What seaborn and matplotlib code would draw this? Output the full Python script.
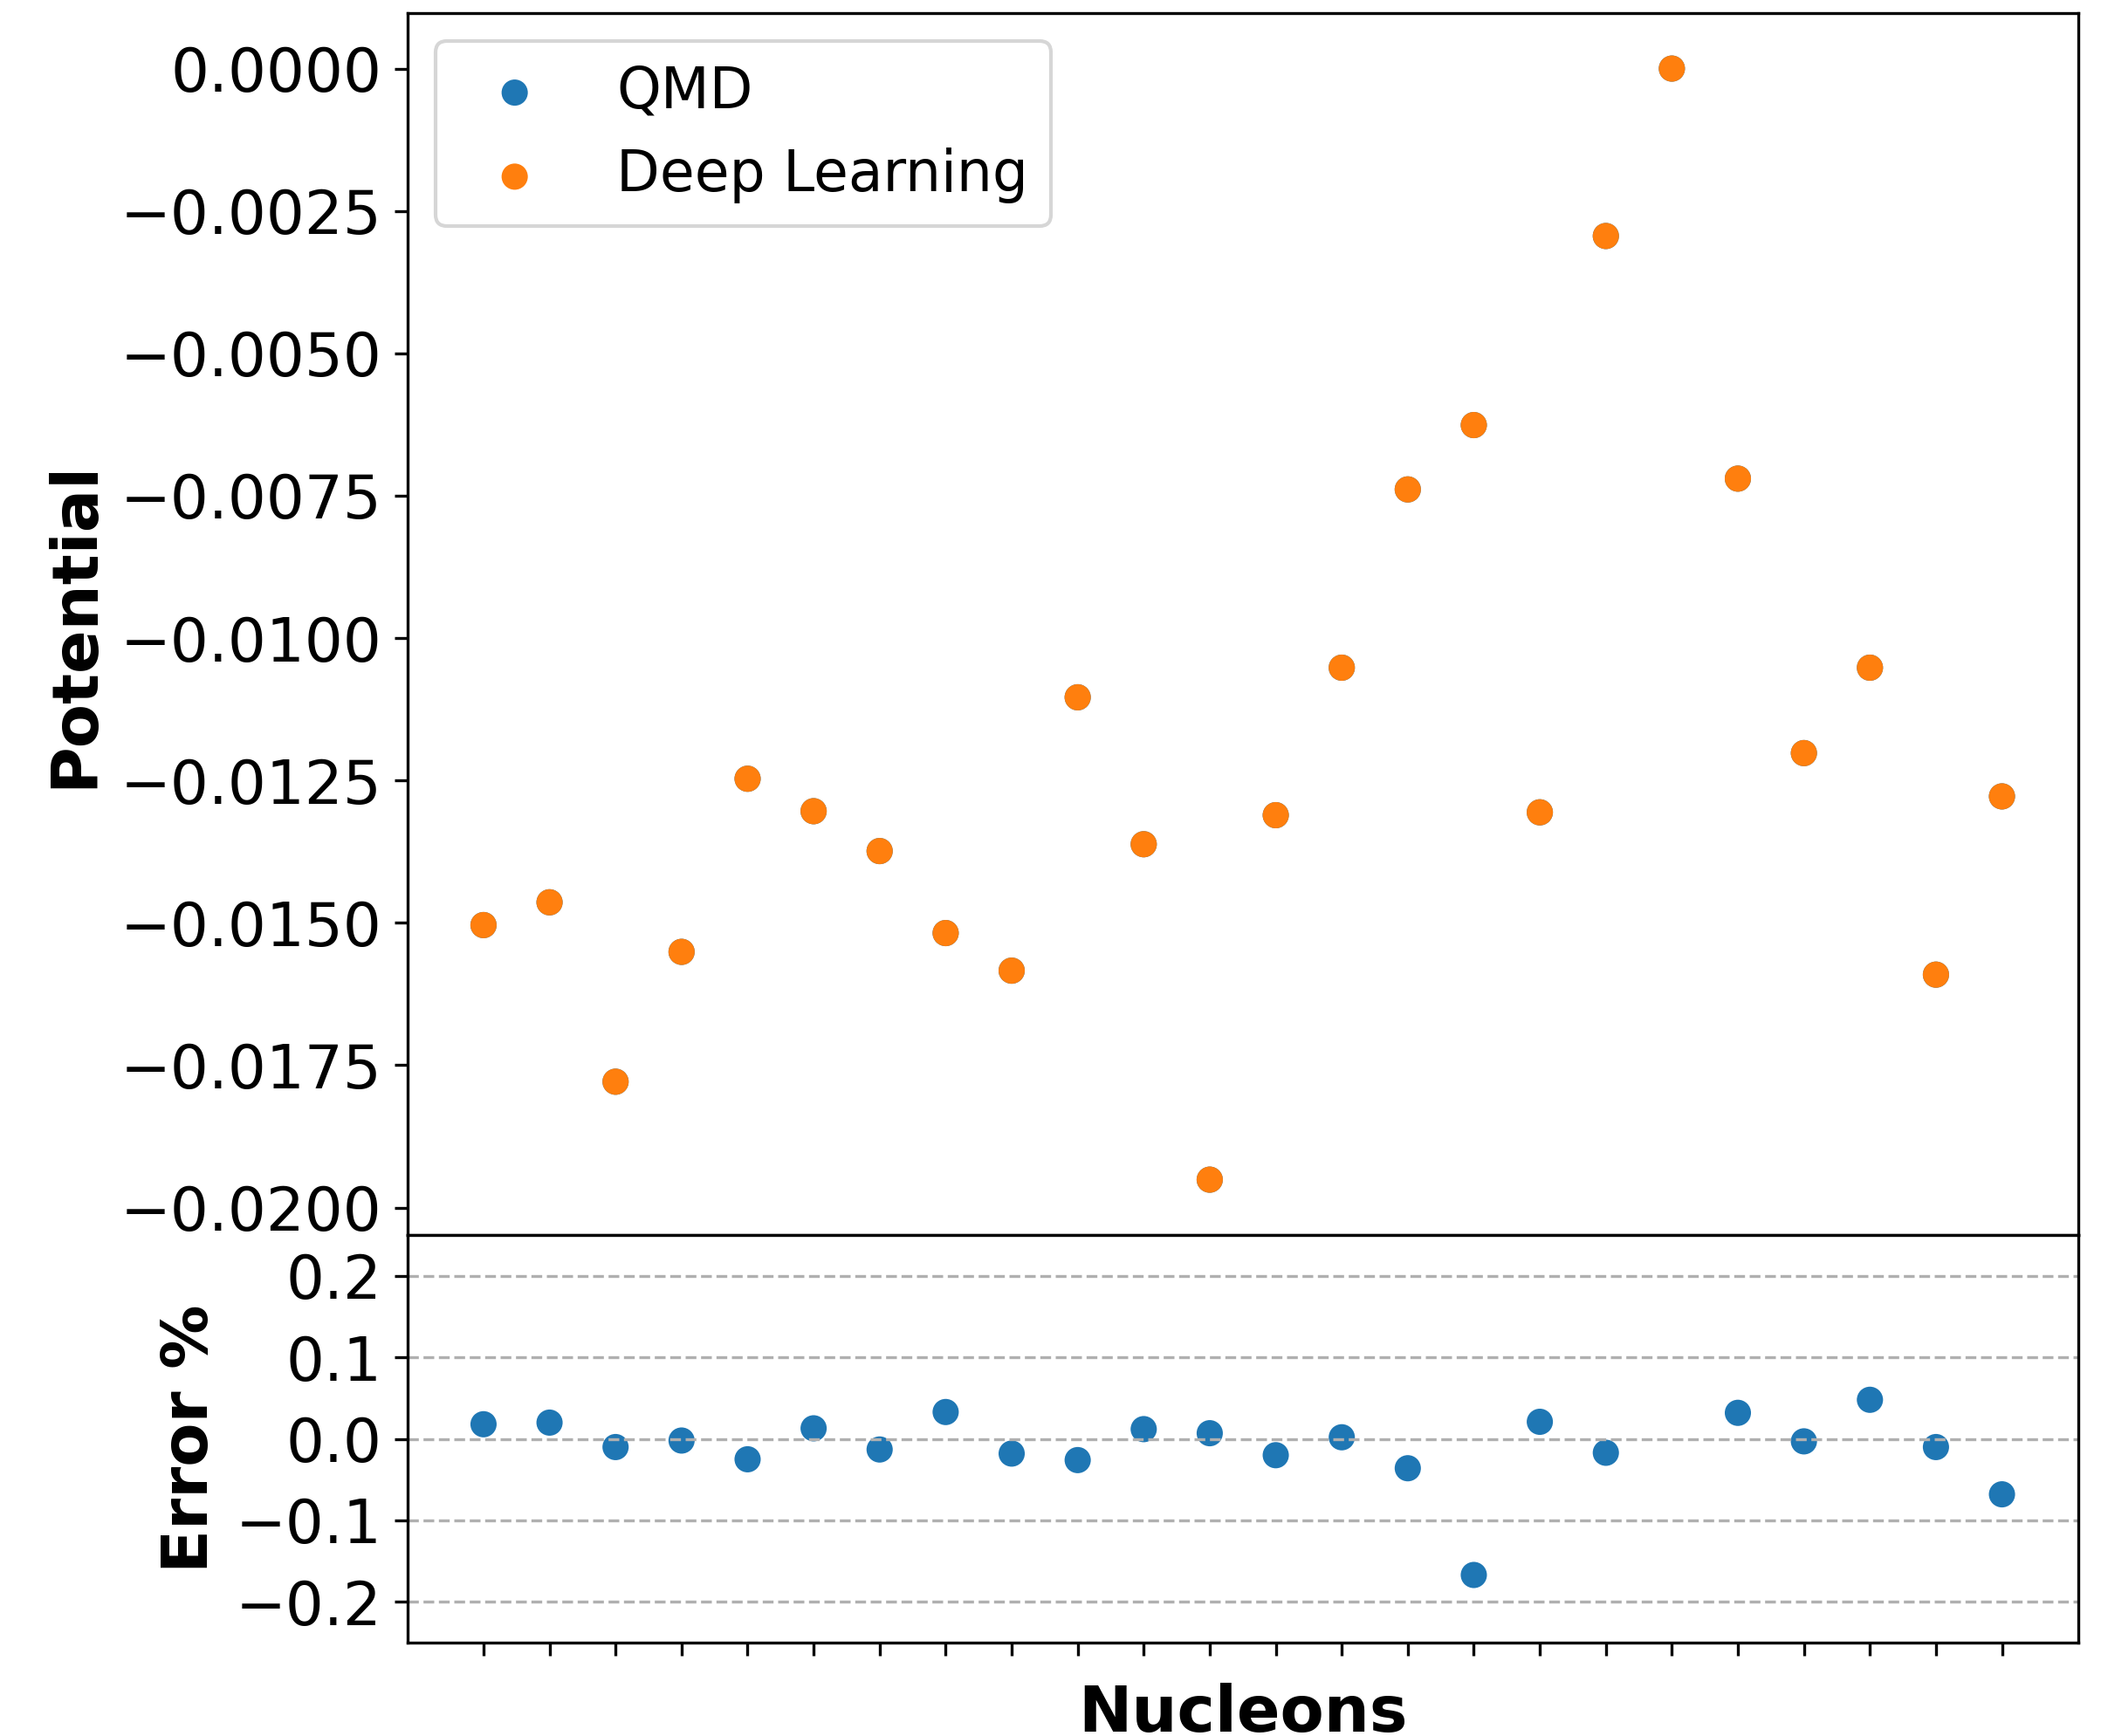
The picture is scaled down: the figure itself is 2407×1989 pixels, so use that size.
import numpy as np
import pandas as pd
import matplotlib
matplotlib.use("Agg")
import matplotlib.pyplot as plt
import seaborn as sns

# values
nucleons = list(range(24))
dl_potential = [-0.01504, -0.01464, -0.01779, -0.01551, -0.01247, -0.01304,
                -0.01374, -0.01518, -0.01584, -0.01104, -0.01362, -0.01951,
                -0.01311, -0.01052, -0.00739, -0.00626, -0.01306, -0.00294,
                0.0, -0.00720, -0.01202, -0.01052, -0.01591, -0.01278]
# QMD points sit underneath the Deep Learning ones (error is a fraction of a percent)
qmd_potential = [-0.01504, -0.01464, -0.01779, -0.01551, -0.01247, -0.01304,
                 -0.01374, -0.01518, -0.01584, -0.01104, -0.01362, -0.01951,
                 -0.01311, -0.01052, -0.00739, -0.00626, -0.01306, -0.00294,
                 0.0, -0.00720, -0.01202, -0.01052, -0.01591, -0.01278]
error_pct = [0.018, 0.020, -0.010, -0.002, -0.025, 0.013, -0.013, 0.033,
             -0.018, -0.026, 0.012, 0.007, -0.020, 0.002, -0.036, -0.167,
             0.021, -0.017, np.nan, 0.032, -0.003, 0.048, -0.010, -0.068]

df = pd.DataFrame({"nucleon": nucleons, "qmd": qmd_potential,
                   "dl": dl_potential, "err": error_pct})

plt.rcParams['font.family'] = ['DejaVu Sans']
fig = plt.figure(figsize=(2407 / 300, 1989 / 300), dpi=300)
gs = fig.add_gridspec(2, 1, height_ratios=[3, 1], hspace=0,
                      left=0.194, right=0.989, top=0.9925, bottom=0.0538)
ax1 = fig.add_subplot(gs[0])
ax2 = fig.add_subplot(gs[1], sharex=ax1)

sns.scatterplot(data=df, x="nucleon", y="qmd", ax=ax1, color="#1f77b4",
                s=52, edgecolor="none", label="QMD")
sns.scatterplot(data=df, x="nucleon", y="dl", ax=ax1, color="#ff7f0e",
                s=52, edgecolor="none", label="Deep Learning")
ax1.set_ylabel("Potential", fontsize=17.6, fontweight="bold")
ax1.set_xlabel("")
ax1.tick_params(axis="y", labelsize=16.6)
ax1.tick_params(axis="x", bottom=False, labelbottom=False)
ax1.legend(loc="upper left", fontsize=15.5)

sns.scatterplot(data=df, x="nucleon", y="err", ax=ax2, color="#1f77b4",
                s=52, edgecolor="none")
ax2.set_ylim(-0.25, 0.25)
ax2.set_yticks([-0.2, -0.1, 0.0, 0.1, 0.2])
ax2.yaxis.grid(True, linestyle="--", color="#b0b0b0")
ax2.set_xticks(nucleons)
ax2.set_xticklabels([])
ax2.tick_params(axis="y", labelsize=16.6)
ax2.set_ylabel("Error %", fontsize=17.6, fontweight="bold")
ax2.set_xlabel("Nucleons", fontsize=17.6, fontweight="bold")

fig.savefig("out.png", dpi=300)
